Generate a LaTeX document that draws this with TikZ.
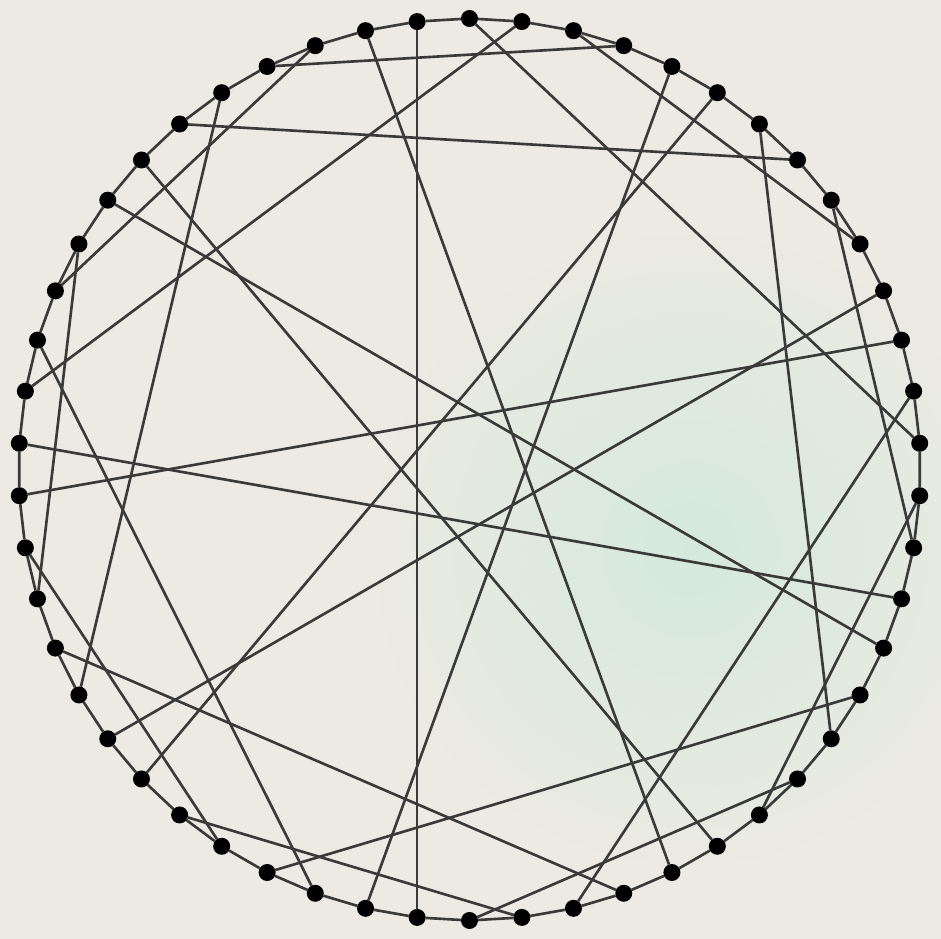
\documentclass[tikz,border=0pt]{standalone}
\usepackage{tikz}
\usetikzlibrary{shadings}
\definecolor{paper}{RGB}{237,234,227}
\definecolor{papergreen}{RGB}{212,233,220}
\definecolor{ink}{RGB}{58,58,56}
\tikzstyle{vertex} = [circle, fill=black, minimum size=1.7mm, inner sep=0pt, outer sep=0pt]
\tikzstyle{edge}   = [draw=ink, line width=0.75pt]

\begin{document}
\begin{tikzpicture}[
        ring/.style={edge},
        chord/.style={edge}
    ]
    \useasboundingbox (0,0) rectangle (9.41,9.39);
    \fill[paper] (0,0) rectangle (9.41,9.39);
    \shade[inner color=papergreen, outer color=paper] (6.9,3.9) circle (3.4);

    \begin{scope}[shift={(4.695,4.695)}]
        % 54 vertices round the circle, v1 a little left of the top
        \foreach \k in {1,...,54} {
            \pgfmathsetmacro{\ang}{90+(3-\k)*(360/54)}
            \node[vertex] (v\k) at (\ang:4.51) {};
        }
    \end{scope}

    % the cycle
    \foreach \k in {1,...,54} {
        \pgfmathtruncatemacro{\nxt}{mod(\k,54)+1}
        \draw[ring] (v\k) -- (v\nxt);
    }

    % the matching
    \foreach \a/\b in {1/26, 2/31, 3/16, 4/45, 5/12, 6/53, 7/32, 8/37, 9/22,
                       10/51, 11/18, 13/38, 14/43, 15/28, 17/24, 19/44, 20/49,
                       21/34, 23/30, 25/50, 27/40, 29/36, 33/46, 35/42, 39/52,
                       41/48, 47/54} {
        \draw[chord] (v\a) -- (v\b);
    }

\end{tikzpicture}
\end{document}
